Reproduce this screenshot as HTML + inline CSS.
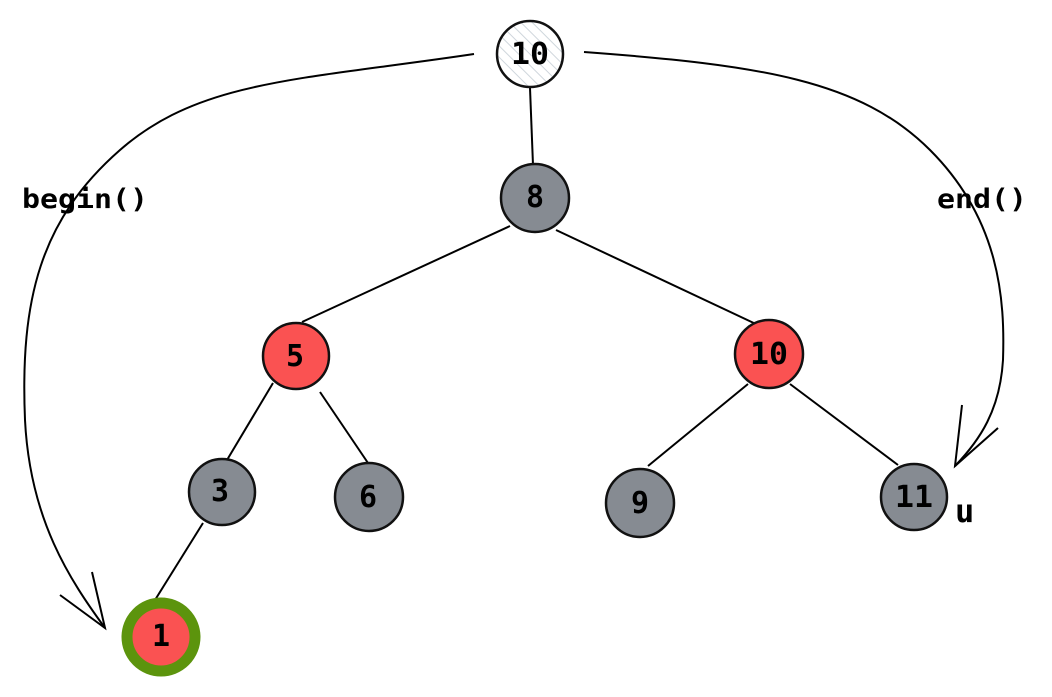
<!DOCTYPE html>
<html><head><style>
html,body{margin:0;padding:0;background:#fff;}
text{font-family:"DejaVu Sans Mono","Liberation Mono",monospace;}
</style></head><body>
<svg width="1052" height="692" viewBox="0 0 1052 692" xmlns="http://www.w3.org/2000/svg">
<defs>
<pattern id="h" width="8" height="8" patternUnits="userSpaceOnUse" patternTransform="rotate(-45)">
<line x1="0" y1="0" x2="0" y2="8" stroke="#cfd6dc" stroke-width="2"/>
</pattern>
</defs>
<g stroke="#000" stroke-width="2" fill="none">
<line x1="530" y1="88" x2="533" y2="165"/>
<line x1="510" y1="226" x2="302" y2="322"/>
<line x1="556" y1="230" x2="758" y2="325"/>
<line x1="273" y1="383" x2="227" y2="460"/>
<line x1="320" y1="392" x2="368" y2="463"/>
<line x1="748" y1="384" x2="648" y2="466"/>
<line x1="790" y1="384" x2="898" y2="465"/>
<line x1="203" y1="523" x2="155" y2="600"/>
<path d="M474 54 C300 80 200 80 120 150 C40 220 20 300 25 420 C30 520 70 580 105 628"/>
<path d="M60 595 L105 628 L92 572"/>
<path d="M584 52 C760 65 860 80 930 150 C1000 220 1005 300 1003 360 C1000 410 980 440 955 466"/>
<path d="M998 428 L955 466 L962 405"/>
</g>
<g stroke="#111" stroke-width="2.5">
<circle cx="530" cy="54" r="33" fill="url(#h)"/>
<circle cx="535" cy="198" r="34" fill="#868b92"/>
<circle cx="296" cy="356" r="33" fill="#fa5252"/>
<circle cx="769" cy="354" r="34" fill="#fa5252"/>
<circle cx="222" cy="492" r="33" fill="#868b92"/>
<circle cx="369" cy="497" r="34" fill="#868b92"/>
<circle cx="640" cy="503" r="34" fill="#868b92"/>
<circle cx="914" cy="497" r="33" fill="#868b92"/>
</g>
<circle cx="161" cy="637" r="34" fill="#fa5252" stroke="#5c940d" stroke-width="11"/>
<g font-size="30" text-anchor="middle" fill="#000" style="font-weight:bold">
<text x="530" y="64" textLength="38" lengthAdjust="spacingAndGlyphs">10</text>
<text x="535" y="207">8</text>
<text x="295" y="366">5</text>
<text x="769" y="364" textLength="38" lengthAdjust="spacingAndGlyphs">10</text>
<text x="220" y="501">3</text>
<text x="368" y="507">6</text>
<text x="640" y="513">9</text>
<text x="914" y="507" textLength="38" lengthAdjust="spacingAndGlyphs">11</text>
<text x="161" y="646">1</text>
</g>
<text x="22" y="208" font-size="27" style="font-weight:bold" textLength="126" lengthAdjust="spacingAndGlyphs">begin()</text>
<text x="937" y="208" font-size="27" style="font-weight:bold" textLength="90" lengthAdjust="spacingAndGlyphs">end()</text>
<text x="955" y="522" font-size="32" style="font-weight:bold">u</text>
</svg>
</body></html>
